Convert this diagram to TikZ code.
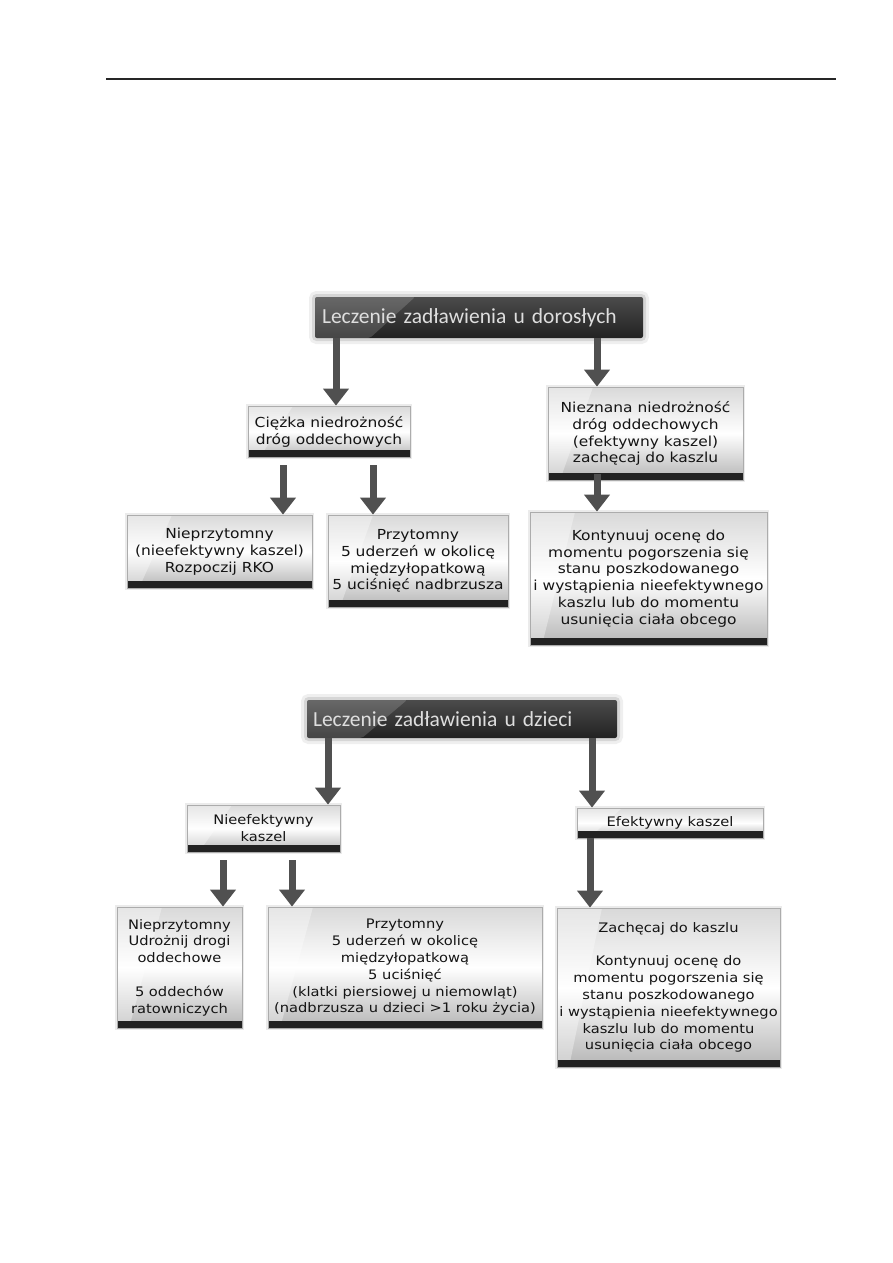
\documentclass[tikz,border=0pt]{standalone}
\usepackage{fontspec}
\setmainfont{DejaVu Sans}[FakeStretch=1.12]
\newfontfamily\titlefont{Carlito}
\usetikzlibrary{arrows.meta,calc}

\definecolor{arrowgray}{RGB}{80,80,80}
\definecolor{bardark}{RGB}{34,34,34}
\definecolor{barmid}{RGB}{75,75,75}
\definecolor{txt}{RGB}{20,20,20}
\definecolor{titletxt}{RGB}{222,222,222}

\tikzset{
  lightbox/.style={rectangle, inner sep=0pt, align=center, text=txt,
    font=\fontsize{13.8}{16.8}\selectfont,
    draw=gray!65, line width=0.8pt,
    preaction={draw=gray!30, line width=4pt, opacity=0.5},
    path picture={
      \shade[top color=gray!30, bottom color=gray!58, middle color=white]
        (path picture bounding box.south west) rectangle (path picture bounding box.north east);
      \fill[white, opacity=0.35]
        (path picture bounding box.north west) -- ([xshift=45pt]path picture bounding box.north west)
        -- ([xshift=12pt]path picture bounding box.south west) -- (path picture bounding box.south west) -- cycle;
      \fill[bardark] (path picture bounding box.south west) rectangle ([yshift=7pt]path picture bounding box.south east);
    }},
  smalltext/.style={font=\fontsize{13.1}{16.8}\selectfont},
  titlebar/.style={rectangle, inner sep=0pt, rounded corners=2pt, text=titletxt,
    font=\titlefont\fontsize{21.5}{24}\selectfont, align=left,
    preaction={draw=gray!40, line width=12pt, opacity=0.3},
    preaction={draw=gray!55, line width=6pt, opacity=0.45},
    path picture={
      \shade[top color=barmid, bottom color=bardark]
        (path picture bounding box.south west) rectangle (path picture bounding box.north east);
      \fill[white, opacity=0.16]
        (path picture bounding box.north west) -- ([xshift=100pt]path picture bounding box.north west)
        -- ([xshift=55pt]path picture bounding box.south west) -- (path picture bounding box.south west) -- cycle;
    }},
  arr/.style={draw=arrowgray, line width=7pt, -{Triangle[width=25pt,length=17pt]}},
}

\begin{document}
\begin{tikzpicture}[x=1pt,y=-1pt]
\useasboundingbox (0,0) rectangle (893,1263);
\fill[white] (0,0) rectangle (893,1263);

% page rule
\draw[line width=1.2pt, black!85] (106,79) -- (836,79);

% ---------- adults ----------
\node[titlebar, minimum width=328pt, minimum height=41pt, text width=314pt] (title1) at (479,317.5)
  {\raisebox{-2pt}{Leczenie zadławienia u dorosłych}};

\node[lightbox, minimum width=162pt, minimum height=51pt] (ciezka) at (329,431.5)
  {Ciężka niedrożność\\dróg oddechowych};
\node[lightbox, minimum width=195pt, minimum height=93pt] (nieznana) at (645.5,433.5)
  {Nieznana niedrożność\\dróg oddechowych\\(efektywny kaszel)\\zachęcaj do kaszlu};
\node[lightbox, minimum width=185pt, minimum height=73pt] (nieprzyt1) at (219.5,551.5)
  {Nieprzytomny\\(nieefektywny kaszel)\\Rozpoczij RKO};
\node[lightbox, minimum width=180pt, minimum height=92pt] (przyt1) at (418,561)
  {Przytomny\\5 uderzeń w okolicę\\międzyłopatkową\\5 uciśnięć nadbrzusza};
\node[lightbox, minimum width=237pt, minimum height=133pt] (kontynuuj) at (648.5,578.5)
  {Kontynuuj ocenę do\\momentu pogorszenia się\\stanu poszkodowanego\\i wystąpienia nieefektywnego\\kaszlu lub do momentu\\usunięcia ciała obcego};

\draw[arr] ([xshift=-143pt]title1.south) -- ([xshift=7pt]ciezka.north);
\draw[arr] ([xshift=118pt]title1.south) -- ([xshift=-48.5pt]nieznana.north);
\draw[arr] ([xshift=-46pt,yshift=-8pt]ciezka.south) -- ([xshift=63.5pt]nieprzyt1.north);
\draw[arr] ([xshift=44pt,yshift=-8pt]ciezka.south) -- ([xshift=-45pt]przyt1.north);
\draw[arr] ([xshift=-48.5pt,yshift=6pt]nieznana.south) -- ([xshift=-51.5pt]kontynuuj.north);

% ---------- children ----------
\node[titlebar, minimum width=310pt, minimum height=38pt, text width=298pt] (title2) at (462,719)
  {\raisebox{-2pt}{Leczenie zadławienia u dzieci}};

\node[lightbox, smalltext, minimum width=153pt, minimum height=47pt] (nieef) at (263.5,828.5)
  {Nieefektywny\\kaszel};
\node[lightbox, smalltext, minimum width=186pt, minimum height=30pt] (efekt) at (670,823)
  {Efektywny kaszel};
\node[lightbox, smalltext, minimum width=125pt, minimum height=121pt] (nieprzyt2) at (179.5,967.5)
  {Nieprzytomny\\Udrożnij drogi\\oddechowe\\[16.8pt]5 oddechów\\ratowniczych};
\node[lightbox, smalltext, minimum width=274pt, minimum height=121pt] (przyt2) at (405,967.5)
  {Przytomny\\5 uderzeń w okolicę\\międzyłopatkową\\5 uciśnięć\\(klatki piersiowej u niemowląt)\\(nadbrzusza u dzieci >1 roku życia)};
\node[lightbox, smalltext, minimum width=223pt, minimum height=159pt] (zachecaj) at (668.5,987.5)
  {Zachęcaj do kaszlu\\[16.8pt]Kontynuuj ocenę do\\momentu pogorszenia się\\stanu poszkodowanego\\i wystąpienia nieefektywnego\\kaszlu lub do momentu\\usunięcia ciała obcego};

\draw[arr] ([xshift=-134pt]title2.south) -- ([xshift=64.5pt]nieef.north);
\draw[arr] ([xshift=130pt]title2.south) -- ([xshift=-78pt]efekt.north);
\draw[arr] ([xshift=-40.5pt,yshift=-8pt]nieef.south) -- ([xshift=43.5pt]nieprzyt2.north);
\draw[arr] ([xshift=28.5pt,yshift=-8pt]nieef.south) -- ([xshift=-113pt]przyt2.north);
\draw[arr] ([xshift=-80pt]efekt.south) -- ([xshift=-78.5pt]zachecaj.north);
\end{tikzpicture}
\end{document}
